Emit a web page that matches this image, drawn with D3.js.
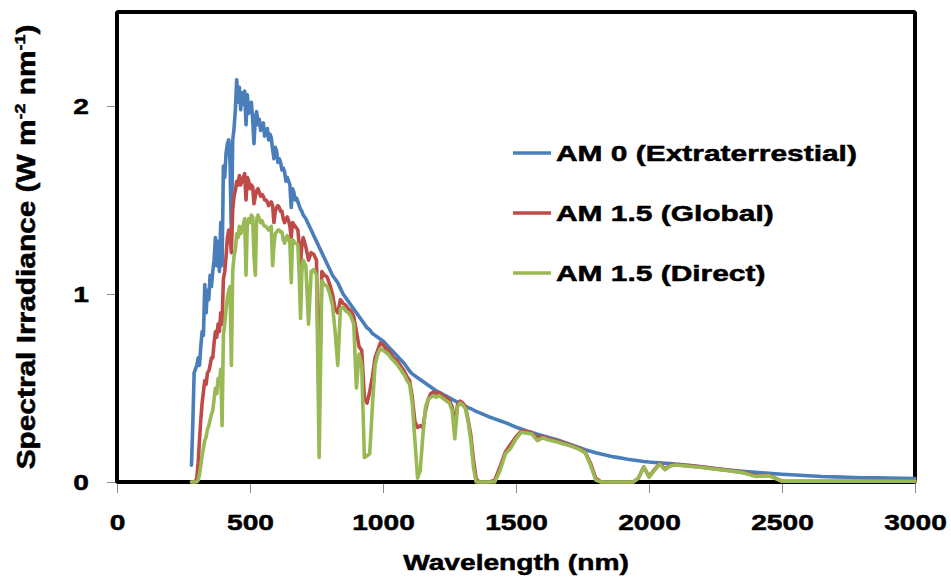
<!DOCTYPE html>
<html>
<head>
<meta charset="utf-8">
<script src="https://cdn.jsdelivr.net/npm/d3@7"></script>
<style>
  body { margin: 0; background: #fff; }
  text { font-family: "Liberation Sans", Arial, sans-serif; font-weight: bold; fill: #000; stroke: #000; stroke-width: 0.5px; }
</style>
</head>
<body>
<svg id="chart" width="951" height="577"></svg>
<script>
// Wavelength grid (nm): 5 nm to 700, 10 nm to 1400, 20 nm to 2100, 50 nm to 3000
const wavelengths = [
  280,285,290,295,300,305,310,315,320,325,
  330,335,340,345,350,355,360,365,370,375,
  380,385,390,395,400,405,410,415,420,425,
  430,435,440,445,450,455,460,465,470,475,
  480,485,490,495,500,505,510,515,520,525,
  530,535,540,545,550,555,560,565,570,575,
  580,585,590,595,600,605,610,615,620,625,
  630,635,640,645,650,655,660,665,670,675,
  680,685,690,695,700,
  710,720,730,740,750,760,770,780,790,800,
  810,820,830,840,850,860,870,880,890,900,
  910,920,930,940,950,960,970,980,990,1000,
  1010,1020,1030,1040,1050,1060,1070,1080,1090,1100,
  1110,1120,1130,1140,1150,1160,1170,1180,1190,1200,
  1210,1220,1230,1240,1250,1260,1270,1280,1290,1300,
  1310,1320,1330,1340,1350,1360,1370,1380,1390,1400,
  1420,1440,1460,1480,1500,1520,1540,1560,1580,1600,
  1620,1640,1660,1680,1700,1720,1740,1760,1780,1800,
  1820,1840,1860,1880,1900,1920,1940,1960,1980,2000,
  2020,2040,2060,2080,2100,
  2150,2200,2250,2300,2350,2400,2450,2500,
  2550,2600,2650,2700,2750,2800,2850,2900,2950,3000
];

// Spectral irradiance (W m-2 nm-1) on the grid above
const am0 = [
  0.09,0.31,0.58,0.60,0.62,0.66,0.62,0.72,0.80,0.78,
  1.05,0.90,1.02,0.97,1.10,1.04,1.12,1.18,1.30,1.15,
  1.28,1.12,1.38,1.15,1.68,1.62,1.75,1.80,1.82,1.70,
  1.30,1.82,1.88,1.98,2.14,2.02,2.10,1.98,2.07,2.01,
  2.08,1.90,2.06,1.96,1.98,2.02,1.93,1.80,1.94,1.97,
  1.90,1.93,1.87,1.90,1.91,1.84,1.86,1.88,1.82,1.85,
  1.83,1.77,1.72,1.78,1.76,1.70,1.72,1.70,1.66,1.67,
  1.65,1.60,1.62,1.60,1.58,1.46,1.56,1.54,1.50,1.51,
  1.49,1.47,1.45,1.44,1.42,
  1.40,1.37,1.34,1.31,1.28,1.25,1.22,1.19,1.16,1.13,
  1.10,1.08,1.06,1.03,1.00,0.98,0.96,0.94,0.92,0.90,
  0.88,0.86,0.84,0.82,0.81,0.79,0.78,0.77,0.76,0.75,
  0.735,0.72,0.705,0.69,0.675,0.66,0.645,0.63,0.61,0.59,
  0.575,0.565,0.555,0.545,0.535,0.525,0.515,0.505,0.495,0.485,
  0.478,0.47,0.462,0.455,0.448,0.44,0.432,0.425,0.418,0.41,
  0.403,0.396,0.39,0.383,0.376,0.37,0.364,0.358,0.352,0.346,
  0.336,0.326,0.316,0.304,0.292,0.282,0.272,0.263,0.254,0.246,
  0.238,0.230,0.222,0.212,0.202,0.192,0.182,0.172,0.164,0.156,
  0.149,0.142,0.136,0.131,0.126,0.121,0.117,0.113,0.109,0.106,
  0.104,0.102,0.100,0.098,0.096,
  0.089,0.081,0.072,0.064,0.057,0.051,0.046,0.041,
  0.037,0.033,0.029,0.027,0.025,0.023,0.022,0.021,0.020,0.019
];

const am15Global = [
  0,0,0,0.005,0.02,0.10,0.22,0.33,0.42,0.48,
  0.54,0.52,0.58,0.59,0.62,0.66,0.66,0.74,0.80,0.77,
  0.84,0.80,0.90,0.84,1.08,1.12,1.20,1.30,1.34,1.32,
  1.22,1.45,1.52,1.55,1.60,1.58,1.63,1.58,1.60,1.62,
  1.64,1.50,1.62,1.60,1.56,1.58,1.57,1.48,1.52,1.55,
  1.56,1.54,1.52,1.53,1.52,1.50,1.50,1.49,1.47,1.48,
  1.49,1.47,1.38,1.44,1.46,1.47,1.46,1.44,1.44,1.40,
  1.38,1.40,1.41,1.39,1.36,1.30,1.38,1.37,1.36,1.35,
  1.34,1.26,1.16,1.26,1.30,
  1.25,1.18,1.22,1.21,1.18,0.40,1.12,1.10,1.09,1.05,
  1.00,0.92,0.90,0.97,0.95,0.94,0.92,0.91,0.88,0.80,
  0.72,0.70,0.45,0.42,0.48,0.56,0.66,0.70,0.74,0.73,
  0.71,0.70,0.68,0.66,0.65,0.63,0.61,0.59,0.56,0.54,
  0.45,0.32,0.29,0.30,0.29,0.38,0.44,0.47,0.48,0.47,
  0.475,0.465,0.455,0.445,0.435,0.40,0.30,0.41,0.43,0.42,
  0.40,0.33,0.25,0.12,0.02,0,0,0,0,0,
  0.01,0.08,0.16,0.20,0.24,0.272,0.268,0.262,0.235,0.242,
  0.232,0.224,0.216,0.208,0.198,0.188,0.176,0.16,0.10,0.02,
  0,0,0,0,0,0,0,0.02,0.08,0.03,
  0.065,0.098,0.07,0.088,0.092,
  0.086,0.079,0.070,0.062,0.052,0.034,0.036,0.004,
  0.004,0.004,0.004,0.004,0.004,0.004,0.004,0.004,0.004,0.004
];

const am15Direct = [
  0,0,0,0,0,0.01,0.04,0.09,0.14,0.18,
  0.22,0.24,0.28,0.30,0.33,0.36,0.38,0.44,0.50,0.47,
  0.55,0.52,0.60,0.30,0.78,0.84,0.92,0.98,1.02,1.04,
  0.62,1.12,1.20,1.24,1.32,1.30,1.36,1.32,1.34,1.37,
  1.40,1.10,1.38,1.40,1.38,1.42,1.41,1.20,1.10,1.40,
  1.42,1.40,1.38,1.39,1.37,1.36,1.36,1.35,1.34,1.35,
  1.36,1.15,1.26,1.32,1.33,1.34,1.34,1.33,1.33,1.29,
  1.27,1.30,1.31,1.29,1.27,1.06,1.29,1.28,1.27,1.27,
  1.26,1.10,0.87,1.12,1.18,
  1.15,0.84,1.12,1.13,1.10,0.13,1.07,1.05,1.04,1.00,
  0.94,0.80,0.62,0.92,0.93,0.91,0.90,0.88,0.84,0.50,
  0.68,0.62,0.13,0.14,0.15,0.40,0.62,0.68,0.71,0.70,
  0.69,0.68,0.66,0.645,0.63,0.61,0.59,0.57,0.54,0.52,
  0.42,0.22,0.02,0.06,0.25,0.40,0.44,0.45,0.46,0.45,
  0.46,0.45,0.44,0.43,0.42,0.38,0.23,0.40,0.42,0.41,
  0.39,0.32,0.22,0.08,0,0,0,0,0,0,
  0,0.06,0.15,0.18,0.23,0.265,0.26,0.255,0.22,0.235,
  0.225,0.218,0.21,0.202,0.194,0.184,0.172,0.155,0.09,0.01,
  0,0,0,0,0,0,0,0.02,0.08,0.025,
  0.06,0.095,0.065,0.085,0.09,
  0.084,0.077,0.068,0.06,0.05,0.03,0.034,0.004,
  0.004,0.004,0.004,0.004,0.004,0.004,0.004,0.004,0.004,0.004
];

const xTicks = [0, 500, 1000, 1500, 2000, 2500, 3000];
const yTicks = [0, 1, 2];
const seriesNames = ["AM 0 (Extraterrestial)", "AM 1.5 (Global)", "AM 1.5 (Direct)"];
const seriesColors = ["#4A7EBB", "#BE4B48", "#98B954"];
const xTitle = "Wavelength (nm)";

const svg = d3.select("#chart");
const plot = { left: 117, top: 12, right: 915, bottom: 482 };

const x = d3.scaleLinear().domain([0, 3000]).range([plot.left, plot.right]);
const y = d3.scaleLinear().domain([0, 2.5]).range([plot.bottom, plot.top]);

const TEXT_STRETCH = 1.28;
const LEGEND_STRETCH = 1.36;

// Axes: short grey ticks outside the frame, bold labels
const gx = svg.append("g")
  .attr("transform", `translate(0,${plot.bottom})`)
  .call(d3.axisBottom(x).tickValues(xTicks).tickSize(11).tickFormat(d3.format("d")));
gx.select(".domain").remove();
gx.selectAll(".tick line").attr("stroke", "#8a8a8a").attr("stroke-width", 1);
gx.selectAll(".tick text")
  .attr("y", 48).attr("dy", null)
  .attr("font-size", 22)
  .attr("font-family", null)
  .attr("fill", null)
  .attr("transform", `scale(${TEXT_STRETCH},1)`);

const gy = svg.append("g")
  .attr("transform", `translate(${plot.left},0)`)
  .call(d3.axisLeft(y).tickValues(yTicks).tickSize(10).tickFormat(d3.format("d")));
gy.select(".domain").remove();
gy.selectAll(".tick line").attr("stroke", "#8a8a8a").attr("stroke-width", 1);
gy.selectAll(".tick text")
  .attr("x", 0).attr("dy", "0.36em")
  .attr("font-size", 22)
  .attr("font-family", null)
  .attr("fill", null)
  .attr("transform", `translate(-28,0) scale(${TEXT_STRETCH},1)`);

// Plot frame
svg.append("rect")
  .attr("x", plot.left).attr("y", plot.top)
  .attr("width", plot.right - plot.left).attr("height", plot.bottom - plot.top)
  .attr("rx", 1.5)
  .attr("fill", "none").attr("stroke", "#000").attr("stroke-width", 4);

// Spectra
const seriesValues = [am0, am15Global, am15Direct];
const line = d3.line().x(d => x(d[0])).y(d => y(d[1]));
seriesValues.forEach((vals, i) => {
  const pts = wavelengths.map((w, k) => [w, vals[k]]);
  svg.append("path")
    .datum(pts)
    .attr("d", line)
    .attr("fill", "none")
    .attr("stroke", seriesColors[i])
    .attr("stroke-width", 3.6)
    .attr("stroke-linejoin", "round")
    .attr("stroke-linecap", "round");
});

// Legend
const legendY = [153, 213, 273];
seriesNames.forEach((name, i) => {
  const g = svg.append("g").attr("transform", `translate(513,${legendY[i]})`);
  g.append("line").attr("x1", 0).attr("x2", 38).attr("y1", 0).attr("y2", 0)
    .attr("stroke", seriesColors[i]).attr("stroke-width", 3.5);
  g.append("text")
    .attr("transform", `translate(43,8) scale(${LEGEND_STRETCH},1)`)
    .attr("font-size", 22)
    .text(name);
});

// Axis titles
svg.append("text")
  .attr("transform", `translate(516,570) scale(${TEXT_STRETCH},1)`)
  .attr("text-anchor", "middle")
  .attr("font-size", 22)
  .text(xTitle);

const yt = svg.append("text")
  .attr("text-anchor", "middle")
  .attr("font-size", 25);
yt.append("tspan").text("Spectral Irradiance (W m");
yt.append("tspan").attr("font-size", 15).attr("dy", -10).text("-2");
yt.append("tspan").attr("dy", 10).text(" nm");
yt.append("tspan").attr("font-size", 15).attr("dy", -10).text("-1");
yt.append("tspan").attr("dy", 10).text(")");
// stretch the rotated title along its length to span the frame height
const ytLen = yt.node().getComputedTextLength();
yt.attr("transform", `translate(35,247) rotate(-90) scale(${445 / ytLen},1)`);
</script>
</body>
</html>
